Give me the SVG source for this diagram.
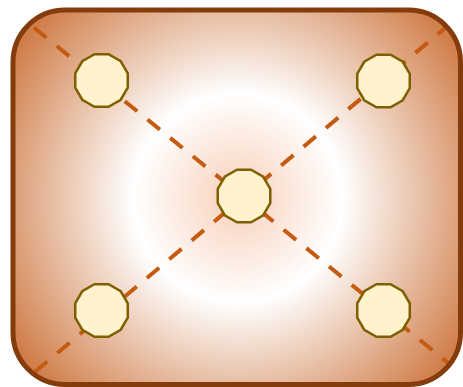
<svg xmlns="http://www.w3.org/2000/svg" xmlns:xlink="http://www.w3.org/1999/xlink" width="463" height="387" viewBox="0 0 463 387">
  <defs>
    <radialGradient id="bg" gradientUnits="userSpaceOnUse" cx="238" cy="198" r="290">
      <stop offset="0" stop-color="#f8cfb8"/>
      <stop offset="0.36" stop-color="#ffffff"/>
      <stop offset="1" stop-color="#c96a2e"/>
    </radialGradient>
    <clipPath id="clip">
      <rect x="13" y="10" width="447.5" height="374.5" rx="52" ry="52"/>
    </clipPath>
    <polygon id="dodec" points="26.27,7.04 19.23,19.23 7.04,26.27 -7.04,26.27 -19.23,19.23 -26.27,7.04 -26.27,-7.04 -19.23,-19.23 -7.04,-26.27 7.04,-26.27 19.23,-19.23 26.27,-7.04"/>
  </defs>
  <style>
    .frame { fill: url(#bg); }
    .border { fill: none; stroke: #843c0c; stroke-width: 5; }
    .conn { stroke: #c55a11; stroke-width: 4; stroke-dasharray: 16 13.2; fill: none; }
    .node use { fill: #fff2cc; stroke: #7f6000; stroke-width: 2.5; }
  </style>
  <g id="background">
    <rect class="frame" x="13" y="10" width="447.5" height="374.5" rx="52" ry="52"/>
  </g>
  <g id="connectors" clip-path="url(#clip)">
    <line class="conn" x1="34" y1="27.7" x2="452" y2="366"/>
    <line class="conn" x1="35" y1="371.7" x2="447" y2="26.5"/>
  </g>
  <g id="node-tl" class="node"><use xlink:href="#dodec" href="#dodec" transform="translate(101.5,80.5)"/></g>
  <g id="node-tr" class="node"><use xlink:href="#dodec" href="#dodec" transform="translate(383.5,81)"/></g>
  <g id="node-c" class="node"><use xlink:href="#dodec" href="#dodec" transform="translate(244,196)"/></g>
  <g id="node-bl" class="node"><use xlink:href="#dodec" href="#dodec" transform="translate(101.5,310.5)"/></g>
  <g id="node-br" class="node"><use xlink:href="#dodec" href="#dodec" transform="translate(383.5,310.5)"/></g>
  <g id="frame-border">
    <rect class="border" x="13" y="10" width="447.5" height="374.5" rx="52" ry="52"/>
  </g>
</svg>
